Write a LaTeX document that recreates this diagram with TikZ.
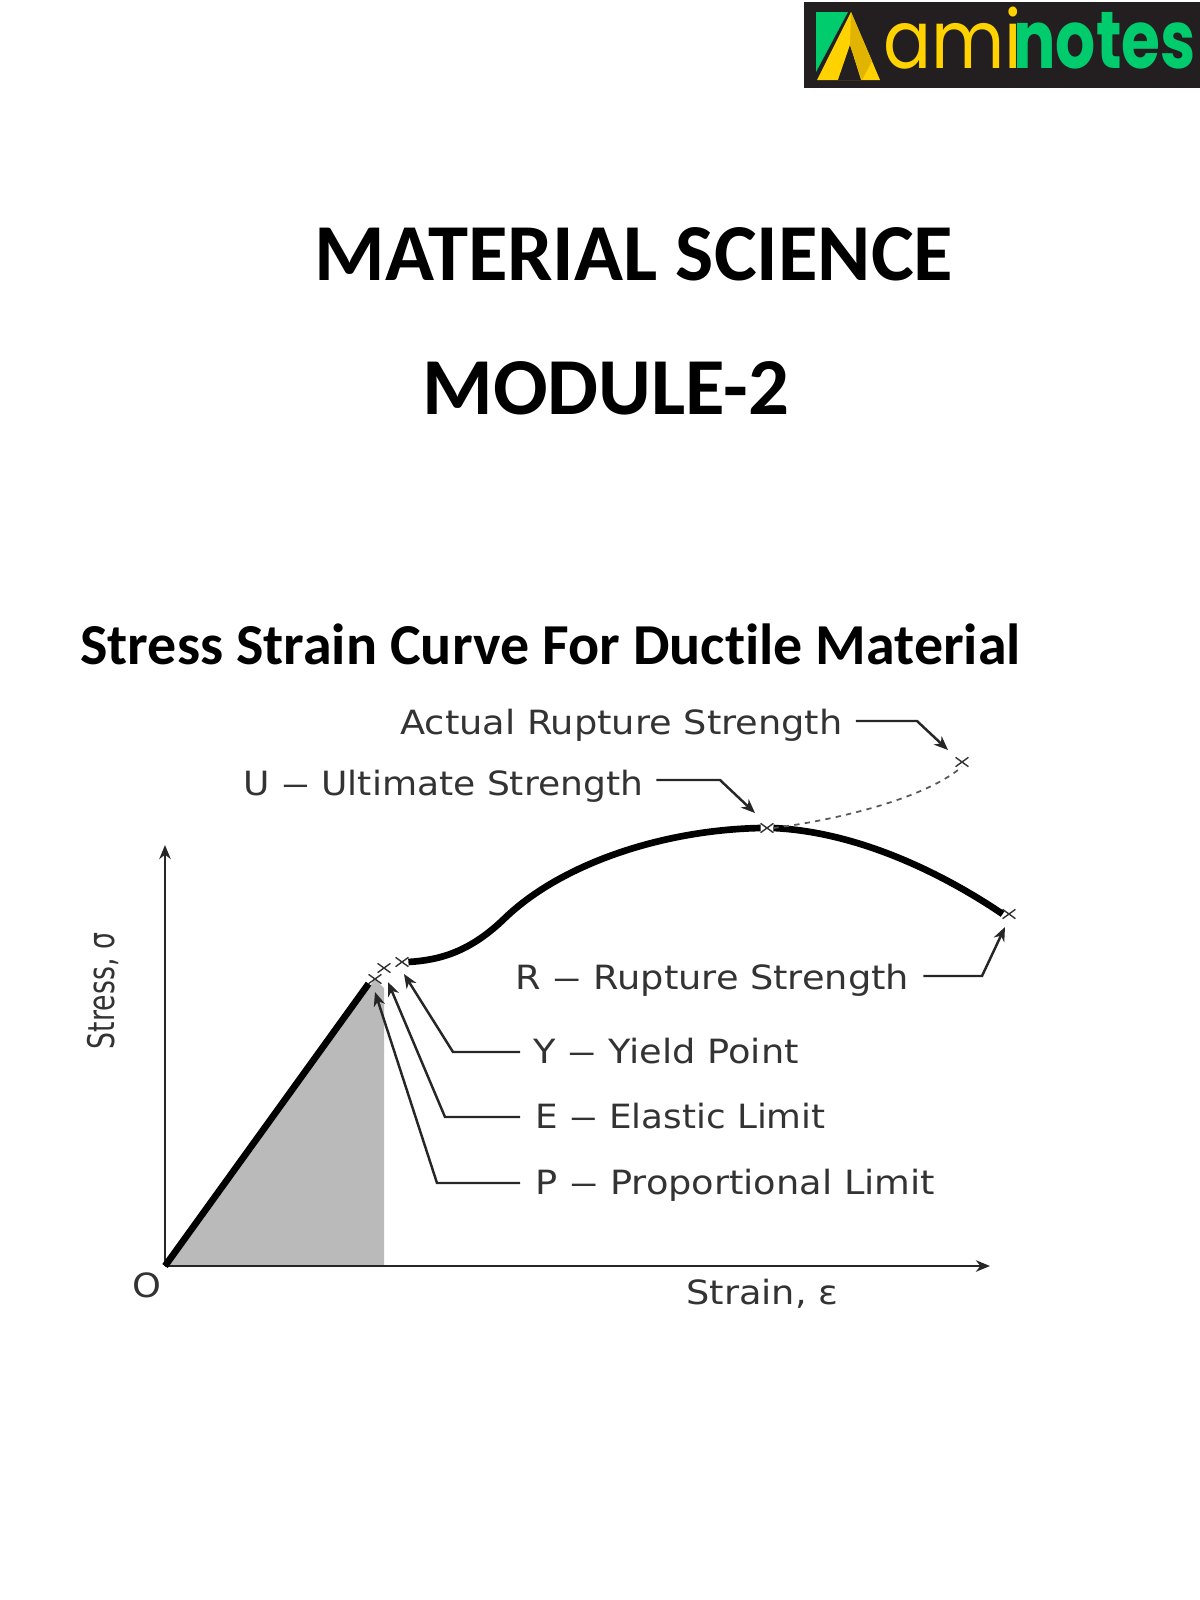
\documentclass[tikz,border=0pt]{standalone}
\usepackage{graphicx}
\usepackage{fontspec}
\setmainfont{DejaVu Sans}
\newfontfamily\titlefont[Ligatures=NoCommon]{Carlito}
\newfontfamily\logofont{Poppins}
\usetikzlibrary{arrows.meta, shapes.misc}
\definecolor{logoblack}{HTML}{231F20}
\definecolor{logogreen}{HTML}{00CC6E}
\definecolor{logoyellow}{HTML}{FFD200}
\definecolor{logoshade}{HTML}{E0B400}
\definecolor{labelgrey}{HTML}{333333}
\newcommand{\widelabel}[1]{\scalebox{1.1}[1]{#1}}
\newcommand{\labeldash}{\scalebox{1.6}[1]{--}}
\tikzset{
  heading/.style={font=\titlefont\bfseries\fontsize{46}{50}\selectfont, inner sep=0pt},
  subheading/.style={font=\titlefont\bfseries\fontsize{33}{36}\selectfont, inner sep=0pt, anchor=west},
  curvelabel/.style={font=\fontsize{19}{22}\selectfont, text=labelgrey, inner sep=0pt},
  xmark/.style={cross out, draw=labelgrey, line width=0.8pt, minimum width=6.5pt, minimum height=4.5pt, inner sep=0pt},
  leader/.style={-{Stealth[length=8pt, width=6.5pt, inset=2.5pt]}, line width=1.4pt, draw=black!85},
  axis/.style={-{Stealth[length=8pt, width=6.5pt, inset=2.5pt]}, line width=1.3pt, draw=black!85},
  bold curve/.style={line width=3.8pt, line cap=butt}
}
\begin{document}
\begin{tikzpicture}[x=0.02cm, y=-0.02cm]
  \useasboundingbox (0,0) rectangle (1200,1600);

  \fill[logoblack] (804,2) rectangle (1200,88);
  \fill[logogreen] (816,12) -- (848,12) -- (816,72) -- cycle;
  \fill[logoyellow] (851,12) -- (880,80) -- (817,80) -- cycle;
  \fill[logoblack] (850,45) -- (861,80) -- (838,80) -- cycle;
  \fill[logoshade] (851,12) -- (872,61) -- (862,80) -- (850,45) -- cycle;
  \node[font=\logofont\fontsize{46}{50}\selectfont, text=logoyellow, inner sep=0pt, anchor=base west] (logo_ami) at (883,68) {\scalebox{0.88}[1]{ami}};
  \node[font=\logofont\bfseries\fontsize{46}{50}\selectfont, text=logogreen, inner sep=0pt, anchor=base west] (logo_notes) at (1013,68) {\scalebox{0.78}[1]{notes}};

  \node[heading] (title) at (634,254) {MATERIAL SCIENCE};
  \node[heading] (module) at (606,388) {MODULE-2};
  \node[subheading] (subtitle) at (80,644) {Stress Strain Curve For Ductile Material};

  \coordinate (orig) at (165,1266);
  \coordinate (ytop) at (165,845);
  \coordinate (xend) at (990,1266);

  \fill[black!27] (orig) -- (375,979) -- (384,988) -- (384,1266) -- cycle;
  \draw[axis] (orig) -- (ytop);
  \draw[axis] (orig) -- (xend);

  \node[xmark] (cross_p) at (375,979) {};
  \node[xmark] (cross_e) at (384,968) {};
  \node[xmark] (cross_y) at (402,962) {};
  \node[xmark] (cross_u) at (767,828) {};
  \node[xmark] (cross_r) at (1009,914) {};
  \node[xmark] (cross_a) at (962,762) {};

  \draw[bold curve] (orig) -- (cross_p.south west);
  \draw[bold curve] (cross_y.east) .. controls (440,960) and (470,952) .. (505,918)
    .. controls (560,865) and (660,830) .. (cross_u.west);
  \draw[bold curve] (cross_u.east) .. controls (860,832) and (945,875) .. (cross_r.west);
  \draw[dashed, line width=1pt, draw=black!65] (cross_u.east) .. controls (850,818) and (930,795) .. (cross_a.south);

  \node[curvelabel, anchor=west] (lab_a) at (400,725) {\widelabel{Actual Rupture Strength}};
  \node[curvelabel, anchor=west] (lab_u) at (243,786) {\scalebox{1.08}[1]{U \labeldash{} Ultimate Strength}};
  \node[curvelabel, anchor=west] (lab_r) at (515,980) {\widelabel{R \labeldash{} Rupture Strength}};
  \node[curvelabel, anchor=west] (lab_y) at (533,1051) {\widelabel{Y \labeldash{} Yield Point}};
  \node[curvelabel, anchor=west] (lab_e) at (535,1116) {\scalebox{1.07}[1]{E \labeldash{} Elastic Limit}};
  \node[curvelabel, anchor=west] (lab_p) at (535,1185) {\widelabel{P \labeldash{} Proportional Limit}};
  \node[curvelabel] (lab_o) at (147,1285) {\widelabel{O}};
  \node[curvelabel, anchor=west] (lab_strain) at (686,1294) {\widelabel{Strain, ε}};
  \node[curvelabel, rotate=90] (lab_stress) at (103,991) {\scalebox{0.8}[1.1]{Stress, σ}};

  \coordinate (bend_a) at (917,721);
  \coordinate (tip_a) at (948,750);
  \coordinate (bend_u) at (720,780);
  \coordinate (tip_u) at (755,813);
  \coordinate (bend_r) at (982,976);
  \coordinate (tip_r) at (1005,927);
  \coordinate (bend_y) at (453,1052);
  \coordinate (tip_y) at (404,974);
  \coordinate (bend_e) at (445,1117);
  \coordinate (tip_e) at (388,982);
  \coordinate (bend_p) at (437,1183);
  \coordinate (tip_p) at (375,992);

  \draw[leader] ([xshift=13*0.02cm]bend_a -| lab_a.east) -- (bend_a) -- (tip_a);
  \draw[leader] ([xshift=13*0.02cm]bend_u -| lab_u.east) -- (bend_u) -- (tip_u);
  \draw[leader] ([xshift=14*0.02cm]bend_r -| lab_r.east) -- (bend_r) -- (tip_r);
  \draw[leader] ([xshift=-13*0.02cm]bend_y -| lab_y.west) -- (bend_y) -- (tip_y);
  \draw[leader] ([xshift=-15*0.02cm]bend_e -| lab_e.west) -- (bend_e) -- (tip_e);
  \draw[leader] ([xshift=-15*0.02cm]bend_p -| lab_p.west) -- (bend_p) -- (tip_p);
\end{tikzpicture}
\end{document}
